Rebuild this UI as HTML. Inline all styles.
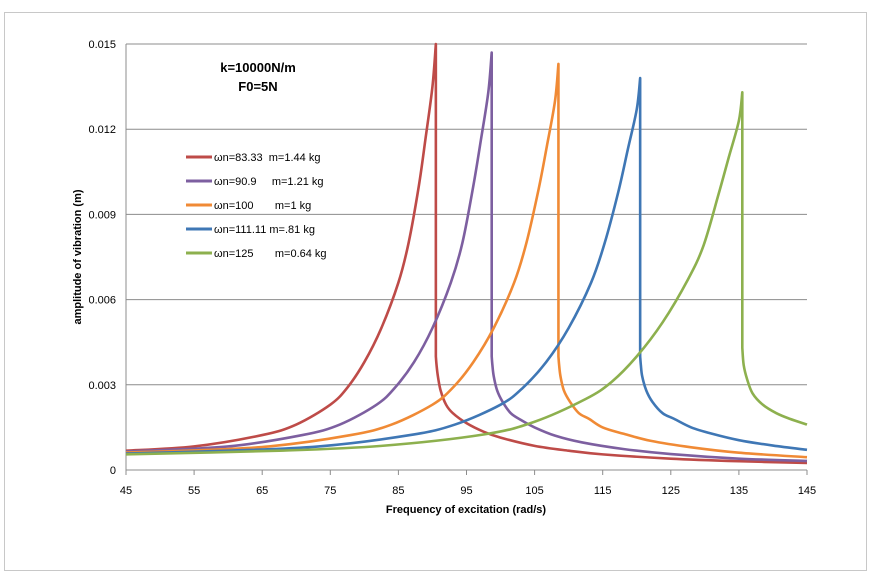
<!DOCTYPE html>
<html><head><meta charset="utf-8"><style>
body{margin:0;background:#fff;font-family:"Liberation Sans",sans-serif;}
svg text{font-family:"Liberation Sans",sans-serif;}
</style></head><body>
<svg id="chart" width="872" height="583" xmlns="http://www.w3.org/2000/svg">
<rect x="4.5" y="12.5" width="862" height="558" fill="#fff" stroke="#c8c8c8"/>
<g id="grid"></g><g id="axes"></g><g id="series"></g>
<text x="258" y="72" text-anchor="middle" font-size="13" font-weight="bold">k=10000N/m</text>
<text x="258" y="91" text-anchor="middle" font-size="13" font-weight="bold">F0=5N</text>
<text x="466" y="513" text-anchor="middle" font-size="11" font-weight="bold">Frequency of excitation (rad/s)</text>
<text transform="translate(81,257) rotate(-90)" text-anchor="middle" font-size="11" font-weight="bold">amplitude of vibration (m)</text>
<g id="legend"></g>
</svg>
<script>
const xTicks=[45,55,65,75,85,95,105,115,125,135,145];
const yTicks=[0,0.003,0.006,0.009,0.012,0.015];
const yTickLabels=["0","0.003","0.006","0.009","0.012","0.015"];
const seriesNames=["ωn=83.33  m=1.44 kg","ωn=90.9     m=1.21 kg","ωn=100       m=1 kg","ωn=111.11 m=.81 kg","ωn=125       m=0.64 kg"];
const seriesColors=["#BE4B48","#7D5FA0","#F08A35","#3F77B5","#8DB04E"];
const redX=[45,55,65,70,75,77.5,80,82.5,85,86.5,88,89,90,90.5];
const redY=[0.00068,0.00083,0.00123,0.0016,0.0023,0.0029,0.0038,0.0050,0.0066,0.0080,0.0100,0.0117,0.0135,0.0150];
const redRX=[90.5,90.6,90.8,91.2,92,93,95,97.5,100,105,110,115,125,135,145];
const redRY=[0.0040,0.0037,0.0033,0.0028,0.0023,0.0020,0.00165,0.00135,0.00114,0.00085,0.00068,0.00055,0.0004,0.00031,0.00025];
const purX=[45,60,70.9,76.4,81.8,84.5,87.3,90,92.7,94.4,96,97.1,98.2,98.7];
const purY=[0.00065,0.00083,0.00123,0.0016,0.0023,0.0029,0.0038,0.0050,0.0066,0.0080,0.0100,0.0116,0.0133,0.0147];
const purRX=[98.7,98.8,99,99.5,100.3,101.5,103,105,108,112,118,125,135,145];
const purRY=[0.0040,0.0037,0.0033,0.0028,0.0024,0.0020,0.00176,0.0015,0.00121,0.00097,0.00074,0.00056,0.0004,0.00032];
const oraX=[45,54,66,78,84,90,93,96,99,102,103.8,105.6,106.8,108,108.5];
const oraY=[0.00062,0.00068,0.00083,0.00123,0.0016,0.0023,0.0029,0.0038,0.0050,0.0066,0.0080,0.0099,0.0114,0.0130,0.0143];
const oraRX=[108.5,108.6,108.8,109.3,110.2,111.5,113,115,118,122,128,135,145];
const oraRY=[0.0040,0.0037,0.0033,0.0028,0.0024,0.0020,0.0018,0.0015,0.00128,0.00103,0.0008,0.00061,0.00045];
const bluX=[45,60,73.3,86.7,93.3,100,103.3,106.7,110,113.3,115.3,117.3,118.7,120,120.5];
const bluY=[0.00058,0.00068,0.00083,0.00123,0.0016,0.0023,0.0029,0.0038,0.0050,0.0066,0.0080,0.0098,0.0113,0.0127,0.0138];
const bluRX=[120.5,120.6,120.8,121.4,122.3,123.8,125.5,128,131,135,140,145];
const bluRY=[0.0040,0.0037,0.0033,0.0028,0.0024,0.0020,0.0018,0.0015,0.00128,0.00105,0.00086,0.00071];
const greX=[45,67.5,82.5,97.5,105,112.5,116.3,120,123.8,127.5,129.8,132,133.5,135,135.5];
const greY=[0.00055,0.00068,0.00085,0.00125,0.0017,0.0025,0.0031,0.0040,0.0052,0.0067,0.0079,0.0097,0.0110,0.0123,0.0133];
const greRX=[135.5,135.7,136.2,137,138.5,140.5,142.5,145];
const greRY=[0.0043,0.0037,0.0032,0.0027,0.0023,0.0020,0.0018,0.0016];
const allSeries=[[redX,redY,redRX,redRY],[purX,purY,purRX,purRY],[oraX,oraY,oraRX,oraRY],[bluX,bluY,bluRX,bluRY],[greX,greY,greRX,greRY]];

const X0=126,X1=807,Y0=470,Y1=44;
function sx(v){return X0+(v-45)/(145-45)*(X1-X0);}
function sy(v){return Y0-(v/0.015)*(Y0-Y1);}
const NS="http://www.w3.org/2000/svg";
function mk(tag,parent){const e=document.createElementNS(NS,tag);parent.appendChild(e);return e;}
const grid=document.getElementById('grid'),axes=document.getElementById('axes'),ser=document.getElementById('series'),leg=document.getElementById('legend');
yTicks.forEach((t,i)=>{
  if(t>0){const l=mk('line',grid);
    
    
    l.setAttribute('x1',X0);l.setAttribute('x2',X1);l.setAttribute('y1',sy(t));l.setAttribute('y2',sy(t));l.setAttribute('stroke','#8c8c8c');l.setAttribute('stroke-width','1');}
  const tx=mk('text',axes);
  
  
  tx.setAttribute('x',116);tx.setAttribute('y',sy(t)+4);tx.setAttribute('text-anchor','end');tx.setAttribute('font-size','11');tx.textContent=yTickLabels[i];
});
const ax=mk('path',axes);


ax.setAttribute('d',`M${X0} ${Y1}V${Y0}H${X1}`);ax.setAttribute('stroke','#8c8c8c');ax.setAttribute('fill','none');
xTicks.forEach(t=>{
  const l=mk('line',axes);
  
  
  l.setAttribute('x1',sx(t));l.setAttribute('x2',sx(t));l.setAttribute('y1',Y0);l.setAttribute('y2',Y0+5);l.setAttribute('stroke','#8c8c8c');
  const tx=mk('text',axes);
  
  
  tx.setAttribute('x',sx(t));tx.setAttribute('y',494);tx.setAttribute('text-anchor','middle');tx.setAttribute('font-size','11');tx.textContent=t;
});
function spline(xs,ys){
  const p=xs.map((x,i)=>[sx(x),sy(ys[i])]);
  let d=`M${p[0][0]} ${p[0][1]}`;
  for(let i=0;i<p.length-1;i++){
    const a=p[Math.max(i-1,0)],b=p[i],c=p[i+1],e=p[Math.min(i+2,p.length-1)];
    const c1=[b[0]+(c[0]-a[0])/6,b[1]+(c[1]-a[1])/6],c2=[c[0]-(e[0]-b[0])/6,c[1]-(e[1]-b[1])/6];
    d+=`C${c1[0]} ${c1[1]} ${c2[0]} ${c2[1]} ${c[0]} ${c[1]}`;
  }
  return d;
}
allSeries.forEach((s,i)=>{
  const [lx,ly,rx,ry]=s;
  const d=spline(lx,ly)+`L${sx(rx[0])} ${sy(ry[0])}`+spline(rx,ry).replace(/^M/,'L');
  const p=mk('path',ser);
  
  
  p.setAttribute('d',d);p.setAttribute('stroke',seriesColors[i]);p.setAttribute('stroke-width','2.6');p.setAttribute('fill','none');p.setAttribute('stroke-linejoin','round');
  const ly2=157+i*24;
  const l=mk('line',leg);
  
  
  l.setAttribute('x1',186);l.setAttribute('x2',212);l.setAttribute('y1',ly2);l.setAttribute('y2',ly2);l.setAttribute('stroke',seriesColors[i]);l.setAttribute('stroke-width','3');
  const t=mk('text',leg);
  
  
  t.setAttribute('x',214);t.setAttribute('y',ly2+4);t.setAttribute('font-size','11');t.style.whiteSpace='pre';t.textContent=seriesNames[i];
});
</script>
</body></html>
